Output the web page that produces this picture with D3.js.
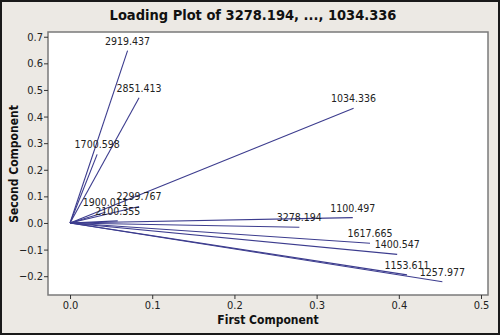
<!DOCTYPE html>
<html><head><meta charset="utf-8">
<script src="https://cdn.jsdelivr.net/npm/d3@7"></script>
<style>
html,body{margin:0;padding:0;background:#fff;}
svg{display:block;}
</style>
</head><body>
<svg id="chart" width="500" height="335"></svg>
<script>
const labels = ["2919.437","2851.413","1700.598","1034.336","2299.767","1900.011","2100.355","1100.497","3278.194","1617.665","1400.547","1153.611","1257.977"];
const pc1 = [0.070,0.084,0.033,0.345,0.084,0.043,0.058,0.344,0.279,0.365,0.398,0.410,0.453];
const pc2 = [0.648,0.471,0.258,0.431,0.062,0.040,0.008,0.020,-0.016,-0.076,-0.118,-0.195,-0.221];
const xTicks = [0.0,0.1,0.2,0.3,0.4,0.5];
const yTicks = [-0.2,-0.1,0.0,0.1,0.2,0.3,0.4,0.5,0.6,0.7];
const titleText = "Loading Plot of 3278.194, ..., 1034.336";
const xTitle = "First Component";
const yTitle = "Second Component";

const W = 500, H = 335;
const plot = {l:48, t:32, r:488, b:295};
const font = "'DejaVu Sans Condensed','DejaVu Sans',sans-serif";

const svg = d3.select("#chart");
svg.append("rect").attr("x",0).attr("y",0).attr("width",W).attr("height",H).attr("fill","#ece9e4");
svg.append("rect").attr("x",1).attr("y",1).attr("width",W-2).attr("height",H-2)
  .attr("fill","none").attr("stroke","#1a1a1a").attr("stroke-width",2);

const x = d3.scaleLinear().domain([-0.0268, 0.5085]).range([plot.l, plot.r]);
const y = d3.scaleLinear().domain([-0.2707, 0.7178]).range([plot.b, plot.t]);

svg.append("rect").attr("x",plot.l).attr("y",plot.t)
  .attr("width",plot.r-plot.l).attr("height",plot.b-plot.t)
  .attr("fill","#fff").attr("stroke","#7a7a7a").attr("stroke-width",1.5);

const fmt = d3.format(".1f");
const xAxis = svg.append("g").attr("transform",`translate(0,${plot.b})`)
  .call(d3.axisBottom(x).tickValues(xTicks).tickFormat(fmt).tickSize(4).tickSizeOuter(0));
const yAxis = svg.append("g").attr("transform",`translate(${plot.l},0)`)
  .call(d3.axisLeft(y).tickValues(yTicks).tickFormat(fmt).tickSize(4).tickSizeOuter(0));
[xAxis,yAxis].forEach(a=>{
  a.select(".domain").remove();
  a.selectAll("line").attr("stroke","#333");
  a.selectAll("text").attr("fill","#222").style("font-family",font).style("font-size","11px");
});
xAxis.selectAll("text").attr("y",6).attr("dy","0.71em");
yAxis.selectAll("text").attr("x",-5);

const data = labels.map((l,i)=>({label:l, px:pc1[i], py:pc2[i]}));
const g = svg.append("g");
g.selectAll("line.vec").data(data).enter().append("line")
  .attr("class","vec")
  .attr("x1",x(0)).attr("y1",y(0))
  .attr("x2",d=>x(d.px)).attr("y2",d=>y(d.py))
  .attr("stroke","#3c3c8e").attr("stroke-width",1.1);
g.selectAll("text.lab").data(data).enter().append("text")
  .attr("class","lab")
  .attr("x",d=>x(d.px)).attr("y",d=>y(d.py)-6)
  .attr("text-anchor","middle")
  .attr("fill","#222")
  .style("font-family",font).style("font-size","10.5px")
  .text(d=>d.label);

svg.append("text").attr("x",253).attr("y",20).attr("text-anchor","middle")
  .attr("fill","#111").style("font-family",font).style("font-weight","bold").style("font-size","14.5px")
  .text(titleText);
svg.append("text").attr("x",268).attr("y",324).attr("text-anchor","middle")
  .attr("fill","#111").style("font-family",font).style("font-weight","bold").style("font-size","12px")
  .text(xTitle);
svg.append("text").attr("transform","translate(18,164) rotate(-90)").attr("text-anchor","middle")
  .attr("fill","#111").style("font-family",font).style("font-weight","bold").style("font-size","12px")
  .text(yTitle);
</script>
</body></html>
